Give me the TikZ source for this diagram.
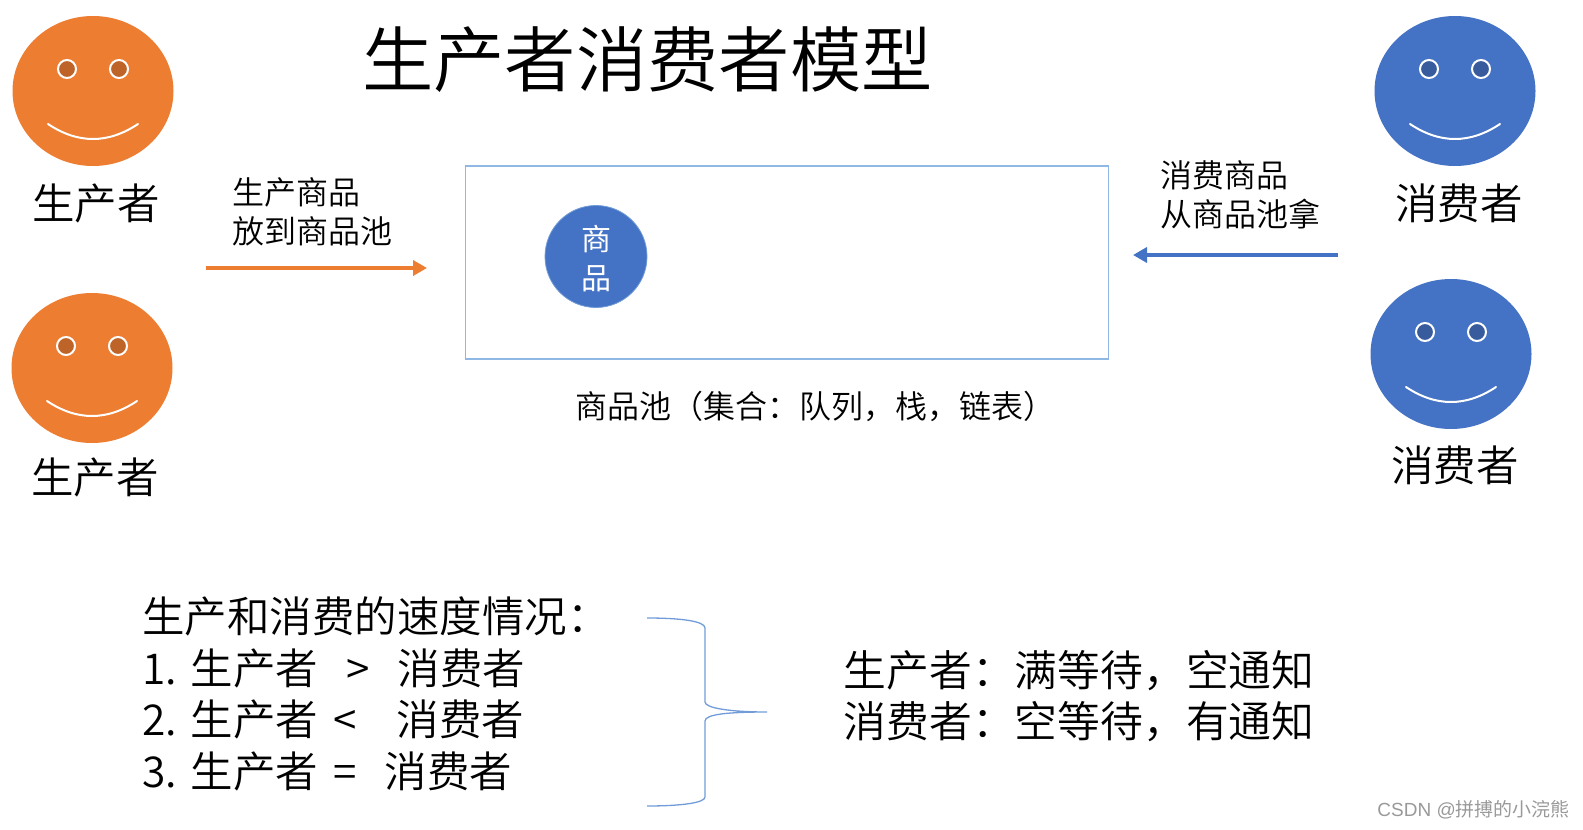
\documentclass[tikz,border=0pt]{standalone}
\usepackage{fontspec}
\setmainfont{Noto Sans CJK SC DemiLight}
\newfontfamily\cjkreg{Noto Sans CJK SC}
\setsansfont{Liberation Sans}
\usetikzlibrary{arrows.meta,shapes.geometric}
\definecolor{org}{HTML}{ED7D31}
\definecolor{blu}{HTML}{4472C4}
\definecolor{boxb}{HTML}{8FB8E4}
\definecolor{orgd}{HTML}{BE6428}
\definecolor{blud}{HTML}{375B9D}
\tikzset{x=1pt,y=-1pt,
 lab/.style={inner sep=0pt,anchor=west,align=left,text=black},
 face/.style={ellipse,draw=none,fill=#1,minimum width=161pt,minimum height=150pt,inner sep=0pt},
 eye/.style={circle,draw=white,line width=2pt,minimum size=18pt,inner sep=0pt,fill=#1},
}
\newcommand{\smiley}[4]{%
 \node[face=#3] (f#1) at (#2) {};
 \node[eye=#4] (el#1) at ([shift={(-26pt,22pt)}]f#1.center) {};
 \node[eye=#4] (er#1) at ([shift={(26pt,22pt)}]f#1.center) {};
 \draw[white,line width=2pt,line cap=round] ([shift={(-45pt,-33pt)}]f#1.center) .. controls ([shift={(-15pt,-53pt)}]f#1.center) and ([shift={(15pt,-53pt)}]f#1.center) .. ([shift={(45pt,-33pt)}]f#1.center);
}
\begin{document}
\begin{tikzpicture}
\useasboundingbox (0,0) rectangle (1583,830);
\smiley{a}{93,91}{org}{orgd}
\smiley{b}{92,368}{org}{orgd}
\smiley{c}{1455,91}{blu}{blud}
\smiley{d}{1451,354}{blu}{blud}
\node[lab,font=\fontsize{42.5}{42.5}\selectfont] (n1) at (32,203) {生产者};
\node[lab,font=\fontsize{42.5}{42.5}\selectfont] (n2) at (31,477) {生产者};
\node[lab,font=\fontsize{42.5}{42.5}\selectfont] (n3) at (1395,203) {消费者};
\node[lab,font=\fontsize{42.5}{42.5}\selectfont] (n4) at (1391,465) {消费者};
\node[lab,font=\fontsize{71.3}{71.3}\selectfont] (title) at (362,60) {生产者消费者模型};
\node[lab,font=\fontsize{32}{38.5pt}\selectfont] (l1) at (232,212) {生产商品\\放到商品池};
\node[lab,font=\fontsize{32}{38.5pt}\selectfont] (l2) at (1160,195) {消费商品\\从商品池拿};
\node[draw=boxb,line width=1.3pt,minimum width=643pt,minimum height=193pt,inner sep=0pt] (pool) at (787,262.5) {};
\node[circle,fill=blu,draw=boxb!60!blu,line width=.8pt,minimum size=102pt,inner sep=0pt] (item) at (596,256.5) {};
\node[inner sep=0pt,text=white,align=center,font=\cjkreg\fontsize{30}{38.5pt}\selectfont] (itemt) at (596,258.5) {商\\品};
\node[lab,font=\fontsize{32}{32}\selectfont] (cap) at (575,406) {商品池（集合：队列，栈，链表）};
\coordinate (a1) at (206,268); \coordinate (a2) at (427,268);
\draw[org,line width=4pt,-{Triangle[length=14pt,width=15pt]}] (a1) -- (a2);
\coordinate (b1) at (1338,255); \coordinate (b2) at (1133,255);
\draw[blu,line width=4pt,-{Triangle[length=14pt,width=15pt]}] (b1) -- (b2);
\node[lab,font=\fontsize{42.5}{51.5pt}\selectfont] (spd) at (142,694) {生产和消费的速度情况：\\1.\hspace{14pt}生产者\hspace{28pt}>\hspace{28pt}消费者\\2.\hspace{14pt}生产者\hspace{15pt}<\hspace{40pt}消费者\\3.\hspace{14pt}生产者\hspace{15pt}=\hspace{28pt}消费者};
\coordinate (br1) at (647,618); \coordinate (br3) at (647,806); \coordinate (brt) at (767,712);
\draw[boxb!60!blu,line width=1.3pt] (br1) .. controls (680,618) and (705,621) .. (705,628) -- (705,702) .. controls (705,708) and (730,712) .. (brt) .. controls (730,712) and (705,714) .. (705,721) -- (705,797) .. controls (705,803) and (680,806) .. (br3);
\node[lab,font=\fontsize{42.8}{51.5pt}\selectfont] (res) at (843.5,696) {生产者：满等待，空通知\\消费者：空等待，有通知};
\node[inner sep=0pt,anchor=east,font=\sffamily\fontsize{19}{19}\selectfont,text=black!40] (wm) at (1570,810) {CSDN @{\cjkreg 拼搏的小浣熊}};
\end{tikzpicture}
\end{document}
